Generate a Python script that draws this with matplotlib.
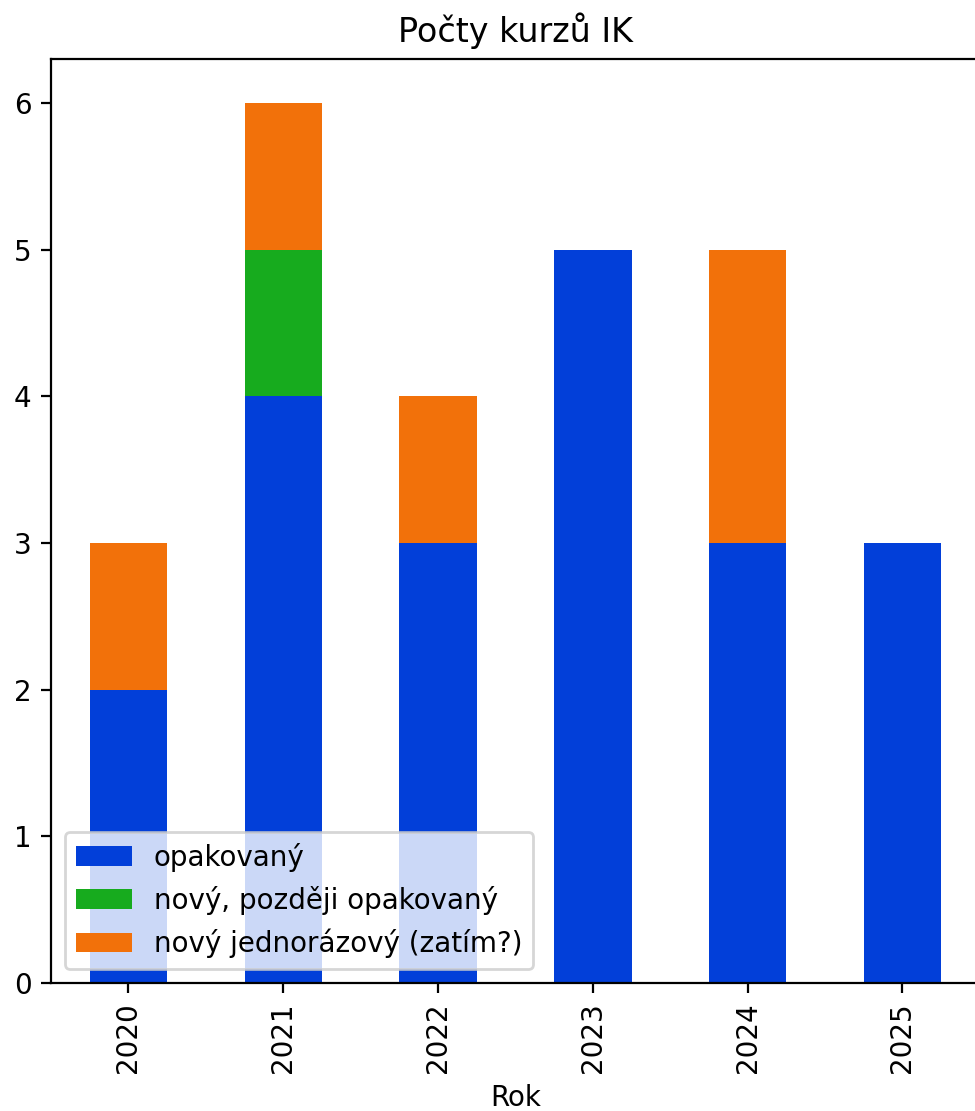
import numpy as np
import matplotlib
matplotlib.use("Agg")
import matplotlib.pyplot as plt

# data
roky = ["2020", "2021", "2022", "2023", "2024", "2025"]
opakovany = [2, 4, 3, 5, 3, 3]
novy_pozdeji_opakovany = [0, 1, 0, 0, 0, 0]
novy_jednorazovy = [1, 1, 1, 0, 2, 0]

serie = [
    ("opakovaný", opakovany, "#023fd9"),
    ("nový, později opakovaný", novy_pozdeji_opakovany, "#17ab1e"),
    ("nový jednorázový (zatím?)", novy_jednorazovy, "#f2710a"),
]

DPI = 200
fig = plt.figure(figsize=(975 / DPI, 1111 / DPI), dpi=DPI)
ax = fig.add_axes([0.0523, 0.1152, 0.9527, 0.8317])

x = np.arange(len(roky))
spodek = np.zeros(len(roky))
for nazev, hodnoty, barva in serie:
    hodnoty = np.array(hodnoty, dtype=float)
    ax.bar(x, hodnoty, width=0.5, bottom=spodek, color=barva, label=nazev)
    spodek += hodnoty

ax.set_xticks(x)
ax.set_xticklabels(roky, rotation=90)
ax.set_xlim(-0.5, len(roky) - 0.5)
ax.set_ylim(0, 6.3)
ax.set_xlabel("Rok")
ax.set_title("Počty kurzů IK")
ax.legend(loc="lower left")

fig.savefig("out.png", dpi=DPI)
